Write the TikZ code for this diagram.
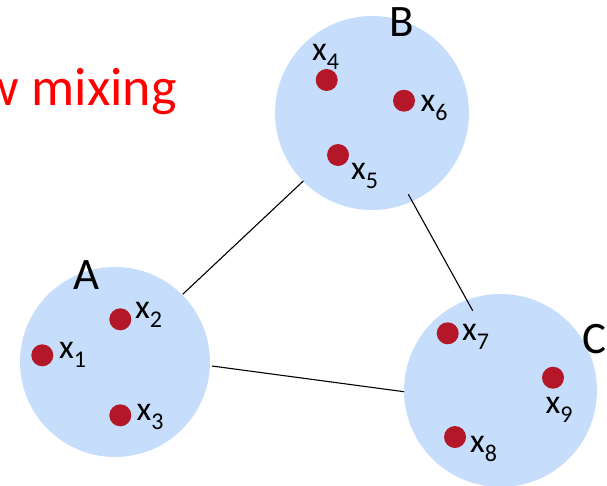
\documentclass[tikz,border=0pt]{standalone}
\usepackage{fontspec}
\setmainfont{Carlito}
\definecolor{cblue}{RGB}{198,222,251}
\definecolor{dotred}{RGB}{180,24,40}
\newcommand{\xsub}[1]{x\raisebox{-9pt}{\fontsize{24}{24}\selectfont #1}}
\begin{document}
\begin{tikzpicture}[x=1pt,y=-1pt,
  cluster/.style={circle,fill=cblue,inner sep=0pt},
  dot/.style={circle,fill=dotred,inner sep=0pt,minimum size=22pt},
  xlab/.style={anchor=base west,inner sep=0pt,font=\fontsize{34}{40}\selectfont},
  clab/.style={anchor=base west,inner sep=0pt,font=\fontsize{45}{50}\selectfont},
  edge/.style={draw=black,line width=1.1pt}]
\useasboundingbox (0,0) rectangle (607,485);
% clusters
\node[cluster,minimum size=190pt] (A) at (115,362) {};
\node[cluster,minimum size=194pt] (B) at (372,113) {};
\node[cluster,minimum size=193pt] (C) at (500.5,390.5) {};
% connector end points
\coordinate (ab1) at (182.7,294.3);
\coordinate (ab2) at (303.3,181);
\coordinate (bc1) at (408.3,194.3);
\coordinate (bc2) at (472.7,310.7);
\coordinate (ac1) at (212,366);
\coordinate (ac2) at (404,391.7);
\draw[edge] (ab1) -- (ab2);
\draw[edge] (bc1) -- (bc2);
\draw[edge] (ac1) -- (ac2);
% points
\node[dot] (d1) at (42.3,355.3) {};
\node[dot] (d2) at (120.3,319.3) {};
\node[dot] (d3) at (120.3,415.3) {};
\node[dot] (d4) at (326.7,80) {};
\node[dot] (d5) at (338,155) {};
\node[dot] (d6) at (404,100.7) {};
\node[dot] (d7) at (447.7,333.3) {};
\node[dot] (d8) at (455,437) {};
\node[dot] (d9) at (553,377.7) {};
% point labels
\node[xlab] (l1) at (59,358.3) {\xsub{1}};
\node[xlab] (l2) at (135,318.3) {\xsub{2}};
\node[xlab] (l3) at (136.5,420.7) {\xsub{3}};
\node[xlab] (l4) at (312,60) {\xsub{4}};
\node[xlab] (l5) at (351,179) {\xsub{5}};
\node[xlab] (l6) at (420.5,111.7) {\xsub{6}};
\node[xlab] (l7) at (462,340) {\xsub{7}};
\node[xlab] (l8) at (470,452.7) {\xsub{8}};
\node[xlab] (l9) at (545.5,413.3) {\xsub{9}};
% cluster labels
\node[clab] (tA) at (73,289.3) {A};
\node[clab] (tB) at (389.5,36.7) {B};
\node[clab] (tC) at (582,353.3) {C};
% title
\node[anchor=base east,inner sep=0pt,text=red,font=\fontsize{54}{60}\selectfont] (title) at (177,105) {w mixing};
\end{tikzpicture}
\end{document}
